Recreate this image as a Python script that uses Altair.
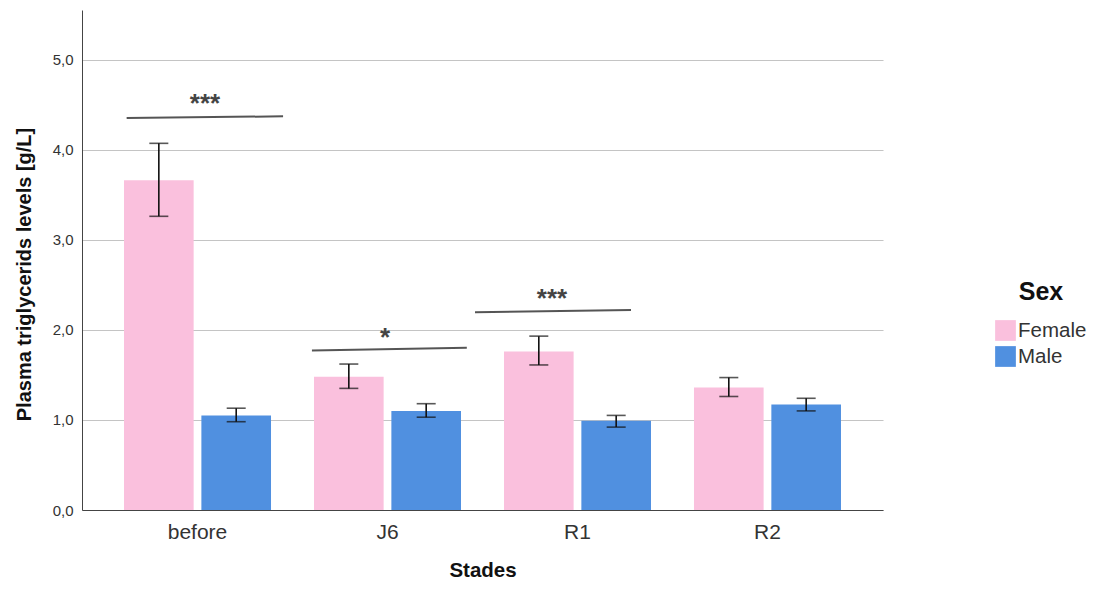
import altair as alt
import pandas as pd

stades = ["before", "J6", "R1", "R2"]
sexes = ["Female", "Male"]
female_mean = [3.66, 1.48, 1.76, 1.36]
female_lo = [3.26, 1.35, 1.61, 1.26]
female_hi = [4.07, 1.62, 1.93, 1.47]
male_mean = [1.05, 1.10, 0.99, 1.17]
male_lo = [0.98, 1.03, 0.92, 1.10]
male_hi = [1.13, 1.18, 1.05, 1.24]

# significance annotations (x in category units, category centers at 0..3)
sig_x1 = [-0.37, 0.605, 1.463]
sig_x2 = [0.453, 1.42, 2.284]
sig_y1 = [4.35, 1.77, 2.195]
sig_y2 = [4.37, 1.80, 2.22]
sig_tx = [0.042, 0.99, 1.868]
sig_ty = [4.51, 1.91, 2.34]
sig_label = ["***", "*", "***"]

rows = []
for i, s in enumerate(stades):
    rows.append(dict(stade=s, sex="Female", mean=female_mean[i], lo=female_lo[i], hi=female_hi[i]))
    rows.append(dict(stade=s, sex="Male", mean=male_mean[i], lo=male_lo[i], hi=male_hi[i]))
df = pd.DataFrame(rows)
sig = pd.DataFrame(dict(x1=sig_x1, x2=sig_x2, y1=sig_y1, y2=sig_y2, tx=sig_tx, ty=sig_ty, label=sig_label))

FONT = "Liberation Sans"
yscale = alt.Scale(domain=[0, 5.55], nice=False)
xscale = alt.Scale(domain=stades, paddingInner=0.21, paddingOuter=0.213)
oscale = alt.Scale(domain=sexes, paddingInner=0.1, paddingOuter=0.02)
qx = alt.Scale(domain=[-0.605, 3.61], nice=False, zero=False)

base = alt.Chart(df)

bars = base.mark_bar().encode(
    x=alt.X("stade:N", scale=xscale, sort=stades,
            axis=alt.Axis(title="Stades", labelAngle=0, ticks=False, labelFontSize=21,
                          labelColor="#333", labelPadding=11, titleFontSize=20.5,
                          titleFontWeight="bold", titlePadding=18, domainColor="#444",
                          labelFont=FONT, titleFont=FONT, titleColor="#111")),
    xOffset=alt.XOffset("sex:N", scale=oscale, sort=sexes),
    y=alt.Y("mean:Q", scale=yscale,
            axis=alt.Axis(title="Plasma triglycerids levels [g/L]", values=[0, 1, 2, 3, 4, 5],
                          labelExpr="replace(format(datum.value, '.1f'), '.', ',')",
                          ticks=False, labelFontSize=15, labelColor="#333", labelPadding=9,
                          titleFontSize=20, titleFontWeight="bold", titlePadding=18, titleY=264,
                          gridColor="#c4c4c4", gridWidth=1.2, domainColor="#444",
                          labelFont=FONT, titleFont=FONT, titleColor="#111")),
    color=alt.Color("sex:N", sort=sexes,
                    scale=alt.Scale(domain=sexes, range=["#FAC0DD", "#5090E0"]),
                    legend=alt.Legend(title="Sex", orient="none", legendX=913, legendY=270,
                                      titleFontSize=25, titleFontWeight="bold", titleFont=FONT,
                                      titleColor="#111", titleAnchor="middle", titlePadding=15,
                                      labelFontSize=20.5, labelFont=FONT, labelColor="#333",
                                      symbolType="square", symbolSize=430, symbolStrokeWidth=0,
                                      rowPadding=5, labelOffset=2, labelLimit=200)),
)

err = base.mark_rule(color="#111", strokeWidth=1.6).encode(
    x=alt.X("stade:N", scale=xscale, sort=stades, axis=None),
    xOffset=alt.XOffset("sex:N", scale=oscale, sort=sexes),
    y=alt.Y("lo:Q", scale=yscale),
    y2="hi:Q",
)
cap_lo = base.mark_tick(color="#111", thickness=1.6, size=19).encode(
    x=alt.X("stade:N", scale=xscale, sort=stades, axis=None),
    xOffset=alt.XOffset("sex:N", scale=oscale, sort=sexes),
    y=alt.Y("lo:Q", scale=yscale),
)
cap_hi = base.mark_tick(color="#111", thickness=1.6, size=19).encode(
    x=alt.X("stade:N", scale=xscale, sort=stades, axis=None),
    xOffset=alt.XOffset("sex:N", scale=oscale, sort=sexes),
    y=alt.Y("hi:Q", scale=yscale),
)

sig_lines = alt.Chart(sig).mark_rule(color="#555", strokeWidth=2).encode(
    x=alt.X("x1:Q", scale=qx, axis=None),
    x2="x2:Q",
    y=alt.Y("y1:Q", scale=yscale),
    y2="y2:Q",
)
sig_text = alt.Chart(sig).mark_text(color="#444", fontSize=26, fontWeight="bold", font=FONT,
                                    baseline="middle").encode(
    x=alt.X("tx:Q", scale=qx, axis=None),
    y=alt.Y("ty:Q", scale=yscale),
    text="label:N",
)

chart = alt.layer(bars, err, cap_lo, cap_hi, sig_lines, sig_text).resolve_scale(
    x="independent", xOffset="independent"
).properties(
    width=801, height=500,
    autosize=alt.AutoSizeParams(type="none"),
    padding={"left": 74, "top": 2, "right": 206, "bottom": 71},
).configure_view(stroke=None).configure_axisY(domain=True).configure_axisX(grid=False)

chart.save("out.html", embed_options={"renderer": "svg", "actions": False})
